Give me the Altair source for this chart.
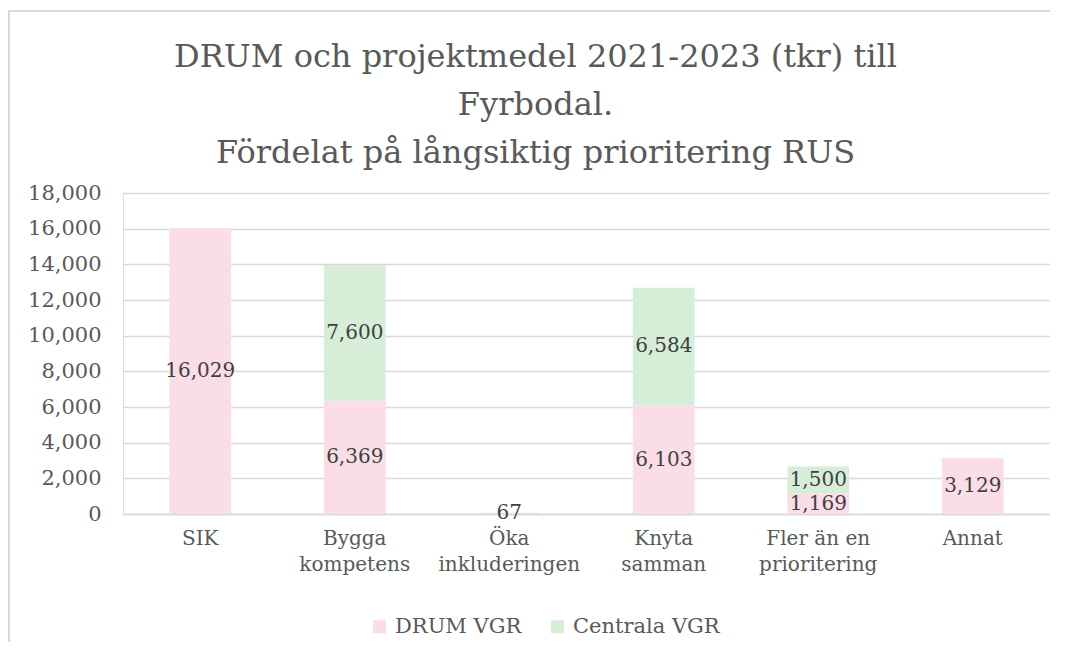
import altair as alt
import pandas as pd

categories = ["SIK", "Bygga\nkompetens", "Öka\ninkluderingen", "Knyta\nsamman", "Fler än en\nprioritering", "Annat"]
series = ["DRUM VGR", "Centrala VGR"]
drum_vgr = [16029, 6369, 67, 6103, 1169, 3129]
centrala_vgr = [0, 7600, 0, 6584, 1500, 0]
colors = ["#fbdde7", "#d6eed8"]
y_ticks = [0, 2000, 4000, 6000, 8000, 10000, 12000, 14000, 16000, 18000]
title_lines = ["DRUM och projektmedel 2021-2023 (tkr) till", "Fyrbodal.", "Fördelat på långsiktig prioritering RUS"]

rows = []
for i, c in enumerate(categories):
    rows.append({"cat": c, "series": series[0], "order": 0, "value": drum_vgr[i]})
    rows.append({"cat": c, "series": series[1], "order": 1, "value": centrala_vgr[i]})
df = pd.DataFrame(rows)
df = df[df["value"] > 0]

FONT = "DejaVu Serif"
W, H = 927, 321

base = alt.Chart(df).transform_stack(
    stack="value", groupby=["cat"], as_=["y0", "y1"], sort=[alt.SortField("order")]
).transform_calculate(mid="(datum.y0 + datum.y1) / 2")

x = alt.X("cat:N", sort=categories, title=None,
          scale=alt.Scale(paddingInner=0.6, paddingOuter=0.3),
          axis=alt.Axis(labelExpr="split(datum.label, '\\n')", labelAngle=0, labelFont=FONT,
                        labelFontSize=20, labelColor="#595959", labelLineHeight=26,
                        labelPadding=14, ticks=False, domainColor="#d9d9d9", domainWidth=1.5,
                        labelBaseline="top"))

yscale = alt.Scale(domain=[0, 18000])
yaxis = alt.Axis(values=y_ticks, format=",.0f", labelFont=FONT, title=None,
                 labelFontSize=21, labelColor="#595959", labelPadding=22,
                 ticks=False, domain=False, gridColor="#d9d9d9", gridWidth=1.5)

bars = base.mark_bar().encode(
    x=x,
    y=alt.Y("y0:Q", title=None, scale=yscale, axis=yaxis),
    y2="y1:Q",
    color=alt.Color("series:N", sort=series,
                    scale=alt.Scale(domain=series, range=colors),
                    legend=alt.Legend(title=None, orient="none", legendX=246, legendY=423,
                                      direction="horizontal", symbolType="square", symbolSize=169,
                                      symbolStrokeWidth=0, labelFont=FONT, labelFontSize=21,
                                      labelColor="#595959", columnPadding=25, labelOffset=5,
                                      padding=0)),
)

labels = base.mark_text(font=FONT, fontSize=20, color="#404040", baseline="middle").encode(
    x=alt.X("cat:N", sort=categories),
    y=alt.Y("mid:Q", title=None, scale=yscale, axis=yaxis),
    text=alt.Text("value:Q", format=","),
)

frame = alt.Chart(pd.DataFrame({"a": [0]})).mark_rect(
    fill=None, stroke="#d9d9d9", strokeWidth=2
).encode(x=alt.value(-114), x2=alt.value(W + 60), y=alt.value(-182), y2=alt.value(H + 200))

chart = alt.layer(frame, bars, labels).properties(
    width=W, height=H,
    title=alt.TitleParams(text=title_lines, font=FONT, fontSize=32, fontWeight="normal",
                          color="#595959", lineHeight=48, anchor="middle", dx=-51, offset=-160),
    padding={"left": 115, "top": 185, "right": 0, "bottom": 128},
    autosize=alt.AutoSizeParams(type="none"),
).configure_view(strokeWidth=0, stroke="transparent").configure(background="white")

chart.save("out.html", embed_options={"renderer": "svg", "actions": False})
